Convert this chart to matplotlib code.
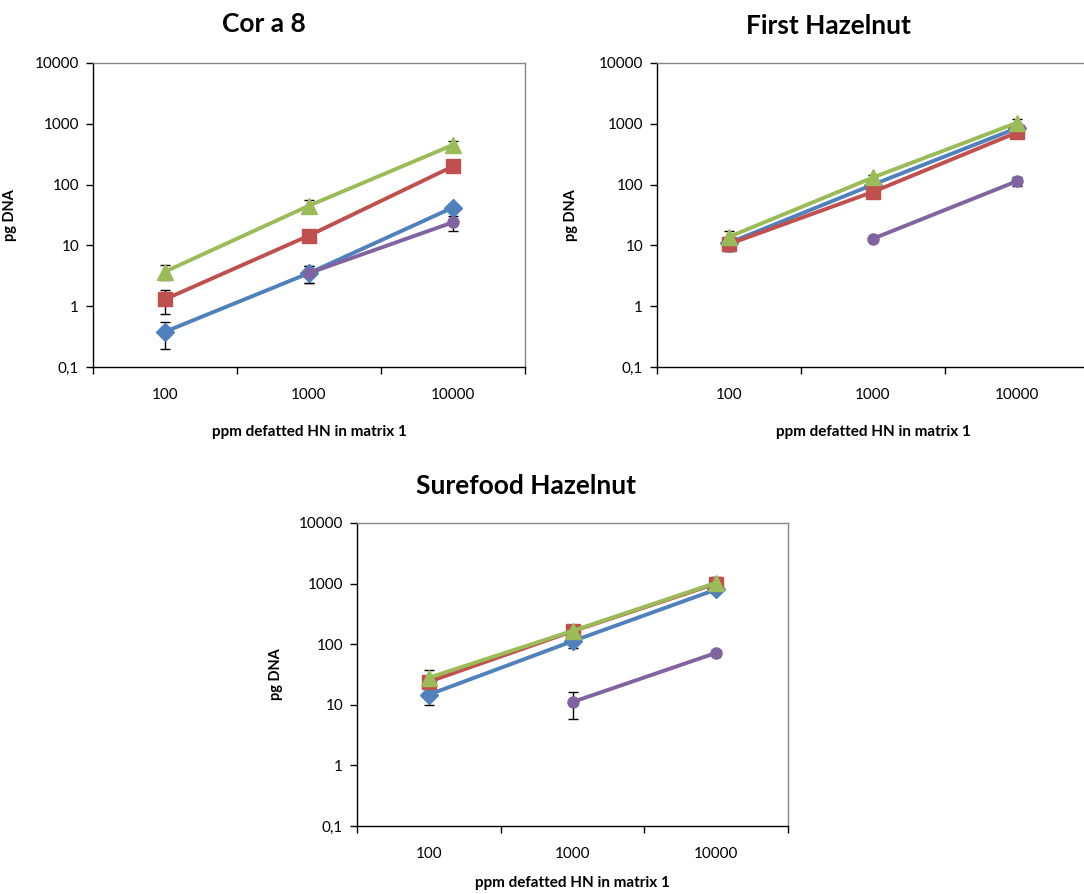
import numpy as np
import matplotlib
matplotlib.use('Agg')
import matplotlib.pyplot as plt
from matplotlib.ticker import FixedLocator, NullLocator

plt.rcParams['font.family'] = ['Lato', 'DejaVu Sans']

# x categories (ppm)
categories = ['100', '1000', '10000']
y_ticks = [0.1, 1, 10, 100, 1000, 10000]
y_tick_labels = ['0,1', '1', '10', '100', '1000', '10000']

nan = np.nan

# Cor a 8
cor_blue = [0.38, 3.5, 42]
cor_blue_err = [0.18, 1.1, 5]
cor_red = [1.3, 14.5, 200]
cor_red_err = [0.55, 1.5, 15]
cor_green = [3.7, 45, 450]
cor_green_err = [1.0, 11, 75]
cor_purple = [nan, 3.5, 24]
cor_purple_err = [nan, 1.1, 6.5]

# First Hazelnut
first_blue = [11, 100, 850]
first_blue_err = [3, 10, 60]
first_red = [10.5, 76, 720]
first_red_err = [2.5, 8, 50]
first_green = [13.8, 131, 1040]
first_green_err = [3.5, 12, 150]
first_purple = [nan, 12.9, 114]
first_purple_err = [nan, 1, 20]

# Surefood Hazelnut
sure_blue = [14.7, 112, 800]
sure_blue_err = [4.7, 24, 100]
sure_red = [24, 163, 1000]
sure_red_err = [5, 20, 250]
sure_green = [28, 166, 1030]
sure_green_err = [9, 20, 250]
sure_purple = [nan, 11.1, 72]
sure_purple_err = [nan, 5.2, 8]

styles = [
    ('#4F81BD', 'D', 9),
    ('#C0504D', 's', 10),
    ('#9BBB59', '^', 11),
    ('#8064A2', 'o', 8),
]


def draw_panel(ax, series, errors, xpad=17):
    x = np.arange(len(categories))
    for (col, mk, ms), vals, errs in zip(styles, series, errors):
        vals = np.array(vals, dtype=float)
        errs = np.array(errs, dtype=float)
        ax.errorbar(x, vals, yerr=errs, fmt='none', ecolor='black',
                    elinewidth=1.0, capsize=3.5, capthick=1.0, zorder=2)
        ax.plot(x, vals, color=col, lw=2.8, marker=mk, ms=ms,
                markeredgecolor=col, zorder=3)
    ax.set_yscale('log')
    ax.set_ylim(0.1, 10000)
    ax.set_xlim(-0.5, 2.5)
    ax.yaxis.set_major_locator(FixedLocator(y_ticks))
    ax.set_yticklabels(y_tick_labels)
    ax.yaxis.set_minor_locator(NullLocator())
    ax.set_xticks([-0.5, 0.5, 1.5, 2.5])
    ax.set_xticklabels([])
    ax.set_xticks(x, minor=True)
    ax.set_xticklabels(categories, minor=True)
    ax.tick_params(axis='x', which='major', direction='out', length=5, width=1)
    ax.tick_params(axis='x', which='minor', length=0, pad=15, labelsize=11)
    ax.tick_params(axis='y', direction='out', length=5, width=1, labelsize=11, pad=5)
    for s in ['left', 'bottom']:
        ax.spines[s].set_color('black')
        ax.spines[s].set_linewidth(1.0)
    for s in ['top', 'right']:
        ax.spines[s].set_color('#868686')
        ax.spines[s].set_linewidth(1.0)
    ax.set_ylabel('pg DNA', fontsize=10.5, fontweight='bold', labelpad=14)
    ax.set_xlabel('ppm defatted HN in matrix 1', fontsize=11,
                  fontweight='bold', labelpad=xpad)


W, H = 1084, 894
fig = plt.figure(figsize=(W / 100, H / 100), dpi=100)

ax1 = fig.add_axes([93 / W, 1 - 367 / H, 432 / W, 304 / H])
ax2 = fig.add_axes([657 / W, 1 - 367 / H, 432 / W, 304 / H])
ax3 = fig.add_axes([357 / W, 1 - 826 / H, 431 / W, 303 / H])

draw_panel(ax1, [cor_blue, cor_red, cor_green, cor_purple],
           [cor_blue_err, cor_red_err, cor_green_err, cor_purple_err])
draw_panel(ax2, [first_blue, first_red, first_green, first_purple],
           [first_blue_err, first_red_err, first_green_err, first_purple_err])
draw_panel(ax3, [sure_blue, sure_red, sure_green, sure_purple],
           [sure_blue_err, sure_red_err, sure_green_err, sure_purple_err], xpad=11)

for ax, xl in [(ax1, 17), (ax2, 578), (ax3, 283)]:
    ax.yaxis.set_label_coords((xl - ax.get_position().x0 * W) / (ax.get_position().width * W), 0.5)

fig.text(264 / W, 1 - 24 / H, 'Cor a 8', ha='center', va='center',
         fontsize=19, fontweight='bold')
fig.text(828 / W, 1 - 26 / H, 'First Hazelnut', ha='center', va='center',
         fontsize=19, fontweight='bold')
fig.text(526 / W, 1 - 486 / H, 'Surefood Hazelnut', ha='center', va='center',
         fontsize=19, fontweight='bold')

fig.savefig('out.png', dpi=100)
